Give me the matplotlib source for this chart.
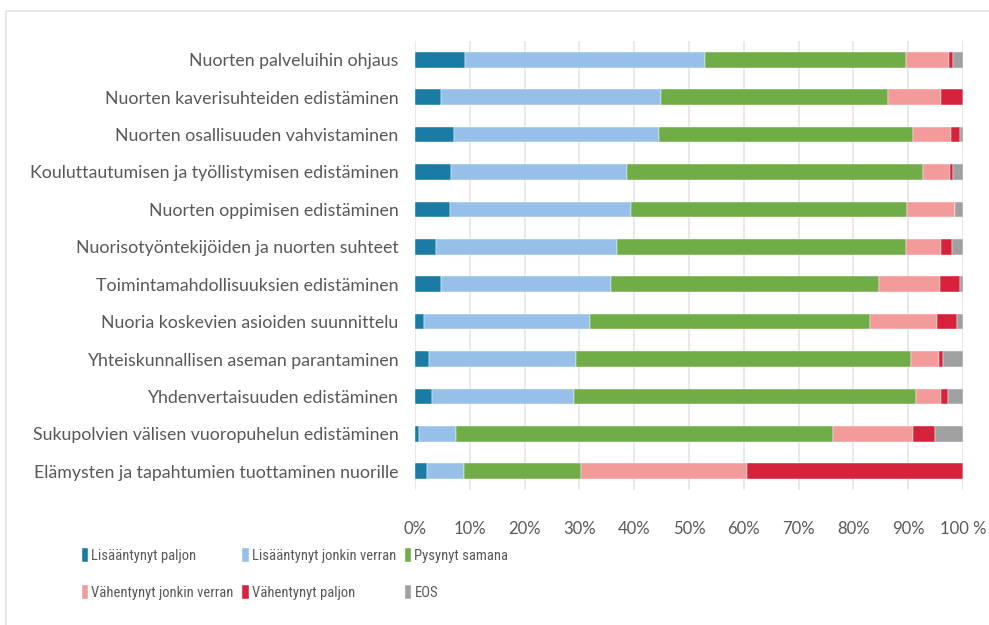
import matplotlib.pyplot as plt
import matplotlib.patches as mpatches
import numpy as np

plt.rcParams["font.family"] = ["Lato", "DejaVu Sans"]

categories = [
    "Nuorten palveluihin ohjaus",
    "Nuorten kaverisuhteiden edistäminen",
    "Nuorten osallisuuden vahvistaminen",
    "Kouluttautumisen ja työllistymisen edistäminen",
    "Nuorten oppimisen edistäminen",
    "Nuorisotyöntekijöiden ja nuorten suhteet",
    "Toimintamahdollisuuksien edistäminen",
    "Nuoria koskevien asioiden suunnittelu",
    "Yhteiskunnallisen aseman parantaminen",
    "Yhdenvertaisuuden edistäminen",
    "Sukupolvien välisen vuoropuhelun edistäminen",
    "Elämysten ja tapahtumien tuottaminen nuorille",
]

series_names = [
    "Lisääntynyt paljon",
    "Lisääntynyt jonkin verran",
    "Pysynyt samana",
    "Vähentynyt jonkin verran",
    "Vähentynyt paljon",
    "EOS",
]

lis_paljon = [9.1, 4.7, 7.1, 6.6, 6.4, 3.8, 4.7, 1.7, 2.5, 3.1, 0.7, 2.1]
lis_jonkin = [43.8, 40.1, 37.4, 32.1, 33.0, 33.1, 31.1, 30.2, 26.9, 25.9, 6.7, 6.8]
pysynyt = [36.7, 41.5, 46.4, 54.0, 50.4, 52.7, 48.9, 51.1, 61.1, 62.5, 68.9, 21.4]
vah_jonkin = [7.9, 9.7, 7.0, 4.9, 8.7, 6.4, 11.1, 12.3, 5.2, 4.5, 14.5, 30.3]
vah_paljon = [0.7, 4.0, 1.6, 0.5, 0.0, 2.0, 3.7, 3.6, 0.7, 1.3, 4.0, 39.4]
eos = [1.8, 0.0, 0.5, 1.9, 1.5, 2.0, 0.5, 1.1, 3.6, 2.7, 5.2, 0.0]

xticks = [0, 10, 20, 30, 40, 50, 60, 70, 80, 90, 100]
xtick_labels = ["0%", "10%", "20%", "30%", "40%", "50%", "60%", "70%", "80%", "90%", "100 %"]

colors = ["#1a7ca5", "#97c0e8", "#70ad47", "#f39a9a", "#d6223a", "#a0a0a0"]
text_color = "#595959"

fig = plt.figure(figsize=(9.89, 6.25), dpi=100)
# light frame of the chart area
fig.patches.append(mpatches.Rectangle((6 / 989, -0.1), 1.1, 1.1 - 11 / 625,
                                      transform=fig.transFigure, fill=False,
                                      edgecolor="#dfe3e8", linewidth=1.2))

ax = fig.add_axes([415 / 989, 1 - 490 / 625, 548 / 989, 449 / 625])

data = [lis_paljon, lis_jonkin, pysynyt, vah_jonkin, vah_paljon, eos]
y = np.arange(len(categories))
left = np.zeros(len(categories))
handles = []
for name, vals, col in zip(series_names, data, colors):
    vals = np.array(vals)
    b = ax.barh(y, vals, left=left, height=0.42, color=col, label=name,
                edgecolor="white", linewidth=0.3)
    handles.append(b)
    left += vals

ax.set_ylim(len(categories) - 0.5, -0.5)
ax.set_xlim(0, 100)
ax.set_yticks(y)
ax.set_yticklabels(categories, fontsize=12.8, color=text_color)
ax.set_xticks(xticks)
ax.set_xticklabels(xtick_labels, fontsize=12, color=text_color)
ax.tick_params(axis="y", length=0, pad=12)
ax.tick_params(axis="x", length=0, pad=22)
ax.grid(axis="x", color="#e1e5ea", linewidth=1.2)
ax.set_axisbelow(True)
for s in ax.spines.values():
    s.set_visible(False)

order = [0, 3, 1, 4, 2, 5]
legend_font = {"family": ["Liberation Sans Narrow", "DejaVu Sans Condensed",
                          "Roboto Condensed", "Lato"], "size": 10.5}
fig.legend([handles[i] for i in order], [series_names[i] for i in order],
           ncol=3, loc="upper left", bbox_to_anchor=(76 / 989, 1 - 542 / 625),
           frameon=False, prop=legend_font, labelcolor=text_color,
           handlelength=0.45, handleheight=1.15, handletextpad=0.2,
           columnspacing=0.6, labelspacing=1.5, borderaxespad=0)

fig.savefig("out.png", dpi=100)
